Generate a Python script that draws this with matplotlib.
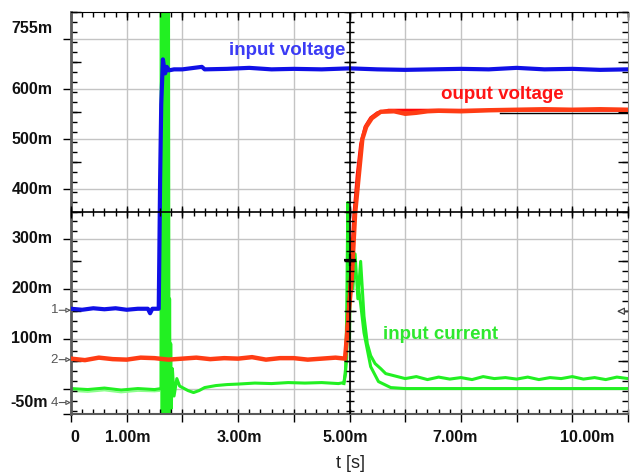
import matplotlib
matplotlib.use("Agg")
import matplotlib.pyplot as plt
import numpy as np
from matplotlib import font_manager

plt.rcParams['font.family'] = ['Liberation Sans', 'DejaVu Sans']

# time in ms, values in mV
blue_t = [0, 0.2, 0.4, 0.6, 0.8, 1.0, 1.2, 1.38, 1.42, 1.46, 1.575, 1.585, 1.6, 1.62, 1.65,
          1.67, 1.69, 1.72, 1.76, 1.85, 2.0, 2.35, 2.4, 2.8, 3.2, 3.6, 4.0, 4.5, 5.0, 5.5,
          6.0, 6.5, 7.0, 7.5, 8.0, 8.5, 9.0, 9.5, 10.0]
blue_v = [160, 158, 161, 159, 161, 158, 160, 160, 151, 160, 160, 260, 420, 570, 660,
          645, 632, 645, 638, 640, 640, 645, 640, 641, 643, 640, 641, 640, 642, 640,
          639, 640, 641, 640, 643, 640, 641, 639, 640]

red_t = [0, 0.25, 0.5, 0.75, 1.0, 1.25, 1.5, 1.75, 2.0, 2.25, 2.5, 2.75, 3.0, 3.25, 3.5,
         3.75, 4.0, 4.25, 4.5, 4.75, 4.92, 4.95, 5.0, 5.04, 5.1, 5.16, 5.23, 5.3, 5.4,
         5.56, 5.8, 6.0, 6.2, 6.4, 6.6, 7.0, 7.5, 8.0, 8.5, 9.0, 9.5, 10.0]
red_v = [60, 57, 62, 59, 58, 62, 61, 58, 60, 62, 59, 61, 60, 63, 58,
         61, 61, 58, 60, 62, 60, 100, 170, 220, 350, 420, 500, 525, 542,
         555, 556, 551, 553, 556, 557, 556, 558, 559, 560, 559, 560, 559]

red2_t = [4.92, 4.97, 5.02, 5.08, 5.14, 5.2, 5.28, 5.38, 5.5, 5.7, 6.5, 7.5, 10.0]
red2_v = [60, 140, 230, 350, 430, 490, 525, 543, 553, 558, 558, 558, 558]

black_t = [7.7, 10.0]
black_v = [553, 553]

green_t = [0, 0.3, 0.6, 0.9, 1.2, 1.5, 1.62,
           1.63, 1.64, 1.65, 1.66, 1.67, 1.68, 1.69, 1.70, 1.71, 1.72, 1.73, 1.74, 1.75, 1.76,
           1.77, 1.78, 1.79, 1.8, 1.82, 1.85, 1.9, 1.95, 2.0, 2.1, 2.2, 2.3, 2.4, 2.6, 2.8,
           3.0, 3.3, 3.6, 3.9, 4.2, 4.5, 4.8, 4.9, 4.93, 4.95, 4.97, 5.0, 5.02, 5.06, 5.1,
           5.15, 5.2, 5.23, 5.26, 5.32, 5.38, 5.46, 5.56, 5.65, 5.79, 6.0, 6.2, 6.4, 6.6,
           6.8, 7.0, 7.2, 7.4, 7.6, 7.8, 8.0, 8.2, 8.4, 8.6, 8.8, 9.0, 9.2, 9.4, 9.6, 9.8, 10.0]
green_v = [0, -2, 1, -3, 0, -2, 0,
           820, -120, 820, -120, 820, -120, 820, -120, 820, -120, 820, -120, 820, -120,
           180, -70, 90, -40, 40, -15, 20, 5, 2, -4, -8, -4, 2, 6, 8,
           9, 11, 10, 12, 11, 12, 10, 12, 30, 150, 373, 100, 300, 200, 270,
           180, 255, 200, 145, 90, 66, 50, 40, 30, 26, 20, 24, 18, 23,
           19, 22, 18, 24, 20, 22, 19, 23, 18, 22, 20, 24, 19, 22, 18, 23, 20]

green2_t = [4.9, 4.95, 4.98, 5.02, 5.08, 5.14, 5.2, 5.26, 5.38, 5.52, 5.74, 6.0, 8.0, 10.0]
green2_v = [10, 60, 300, 250, 230, 220, 170, 112, 44, 14, 2, 0, 0, 0]

green3_t = [0, 0.3, 0.6, 0.9, 1.2, 1.5, 1.6, 1.605, 1.615, 1.625, 1.635]
green3_v = [-5, -7, -4, -8, -5, -6, -5, 800, -100, 800, -5]

y_ticks = [-50, 0, 100, 200, 300, 400, 500, 600, 700]
y_labels = ['755m', '600m', '500m', '400m', '300m', '200m', '100m', '-50m']
y_label_pos = [722, 600, 500, 400, 300, 200, 100, -28]
x_labels = ['0', '1.00m', '3.00m', '5.00m', '7.00m', '10.00m']
x_label_pos = [0.07, 1.02, 3.03, 4.92, 6.89, 9.26]

channels = [('1', 157), ('2', 58), ('4', -28)]

fig = plt.figure(figsize=(6.3, 4.73), dpi=100)
ax = fig.add_axes([71 / 630, 59.5 / 473, 557 / 630, 401.5 / 473])
ax.set_xlim(0, 10)
ax.set_ylim(-50, 755)

for t in range(1, 10):
    ax.axvline(t, color='#c4c4c4', lw=1, zorder=0)
for v in range(0, 800, 100):
    ax.axhline(v, color='#c4c4c4', lw=1, zorder=0)

ax.plot(green3_t, green3_v, color='#8cff8c', lw=1.2, zorder=2)
ax.plot(green2_t, green2_v, color='#22f022', lw=2.2, zorder=2)
ax.plot(green_t, green_v, color='#22f022', lw=2.2, zorder=2)
ax.plot(red2_t, red2_v, color='#ff0a0a', lw=2.2, zorder=3)
ax.plot(red_t, red_v, color='#ff3c14', lw=3.2, zorder=3)
ax.plot(black_t, black_v, color='black', lw=1, zorder=3)
ax.plot(blue_t, blue_v, color='#1010e6', lw=3, zorder=4)

# center cross of the scope screen
ax.axvline(5, color='black', lw=1.2, zorder=5)
ax.axhline(355, color='black', lw=1.2, zorder=5)
vt = np.arange(-45, 756, 20)
vt_long = np.arange(55, 756, 100)
xt = np.arange(0, 10.01, 0.2)
xt_long = np.arange(0, 11, 1)
ax.plot([5] * len(vt), vt, ls='none', marker='_', ms=6, mew=1, color='black', zorder=5)
ax.plot([5] * len(vt_long), vt_long, ls='none', marker='_', ms=9, mew=1, color='black', zorder=5)
ax.plot(xt, [355] * len(xt), ls='none', marker='|', ms=6, mew=1, color='black', zorder=5, clip_on=False)
ax.plot(xt_long, [355] * len(xt_long), ls='none', marker='|', ms=9, mew=1, color='black', zorder=5, clip_on=False)
ax.plot([5], [257], ls='none', marker='+', ms=9, mew=1.6, color='black', zorder=6)

# inner ticks on the frame
ty = ax.get_yaxis_transform()
tx = ax.get_xaxis_transform()
ax.plot([0] * len(vt), vt, ls='none', marker=1, ms=4, mew=1, color='black', transform=ty, clip_on=False)
ax.plot([0] * len(vt_long), vt_long, ls='none', marker=1, ms=7, mew=1, color='black', transform=ty, clip_on=False)
ax.plot([1] * len(vt), vt, ls='none', marker=0, ms=4, mew=1, color='black', transform=ty, clip_on=False)
ax.plot([1] * len(vt_long), vt_long, ls='none', marker=0, ms=7, mew=1, color='black', transform=ty, clip_on=False)
ax.plot(xt, [1] * len(xt), ls='none', marker=3, ms=3.5, mew=1, color='black', transform=tx, clip_on=False)
ax.plot(xt_long, [1] * len(xt_long), ls='none', marker=3, ms=6, mew=1, color='black', transform=tx, clip_on=False)
ax.plot(xt, [0] * len(xt), ls='none', marker=2, ms=3.5, mew=1, color='black', transform=tx, clip_on=False)

ax.set_xticks(range(11))
ax.set_yticks(y_ticks)
ax.tick_params(direction='out', length=6, width=1, color='black',
               labelbottom=False, labelleft=False, top=False, right=False)

for sp in ['left', 'bottom']:
    ax.spines[sp].set_color('#5a5a5a')
ax.spines['left'].set_linewidth(2)
ax.spines['bottom'].set_linewidth(1.5)
ax.spines['top'].set_color('black')
ax.spines['right'].set_color('#8a8a8a')

lab = dict(fontsize=11.5, fontweight='bold', color='#111111', annotation_clip=False)
for s, v in zip(y_labels, y_label_pos):
    # the bottom label sits a little further left so the channel-4 mark stays readable
    off = -16.5 if s == '-50m' else -13.5
    ax.annotate(s, xy=(0, v), xycoords=('axes fraction', 'data'), xytext=(off, 0),
                textcoords='offset points', ha='right', va='center', **lab)
for s, t in zip(x_labels, x_label_pos):
    ax.annotate(s, xy=(t, 0), xycoords=('data', 'axes fraction'), xytext=(0, -17),
                textcoords='offset points', ha='center', va='center', **lab)
ax.annotate('t [s]', xy=(0.502, 0), xycoords='axes fraction', xytext=(0, -36),
            textcoords='offset points', ha='center', va='center', fontsize=13,
            color='#222222', annotation_clip=False)

for name, lev in channels:
    ax.annotate('', xy=(0, lev), xycoords=('axes fraction', 'data'), xytext=(-8.5, 0),
                textcoords='offset points', annotation_clip=False,
                arrowprops=dict(arrowstyle='-|>', color='#555555', fc='white', lw=0.8,
                                mutation_scale=7, shrinkA=0, shrinkB=0))
    ax.annotate(name, xy=(0, lev), xycoords=('axes fraction', 'data'), xytext=(-12, 0),
                textcoords='offset points', ha='center', va='center', fontsize=9.5,
                color='#555555', annotation_clip=False, zorder=1)
ax.annotate('', xy=(1, 155), xycoords=('axes fraction', 'data'), xytext=(-8, 0),
            textcoords='offset points', annotation_clip=False,
            arrowprops=dict(arrowstyle='<|-', color='#444444', fc='white', lw=0.9,
                            mutation_scale=11, shrinkA=0, shrinkB=0))

names = {f.name for f in font_manager.fontManager.ttflist}
if 'Liberation Sans Narrow' in names:
    lfam, lsize = ['Liberation Sans Narrow', 'DejaVu Sans'], 16.5
else:
    lfam, lsize = ['Liberation Sans', 'DejaVu Sans'], 13.5
tk = dict(family=lfam, fontsize=lsize, fontweight='bold', va='center', ha='left', zorder=7)
ax.text(2.84, 677, 'input voltage', color='#3b3bf5', **tk)
ax.text(6.64, 589, 'ouput voltage', color='#ff1414', **tk)
ax.text(5.61, 109, 'input current', color='#2ee82e', **tk)

fig.savefig('out.png', dpi=100)
